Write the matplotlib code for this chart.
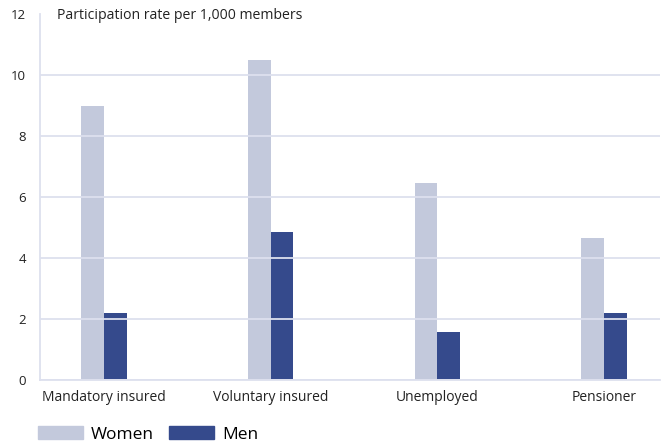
import numpy as np
import matplotlib.pyplot as plt
from matplotlib.patches import Patch

categories = ["Mandatory insured", "Voluntary insured", "Unemployed", "Pensioner"]
women = [9.0, 10.5, 6.45, 4.65]
men = [2.2, 4.85, 1.57, 2.2]
yticks = [0, 2, 4, 6, 8, 10, 12]

c_women = "#C3C9DC"
c_men = "#354A8C"
c_grid = "#DDE0EE"

plt.rcParams['font.family'] = ['Open Sans', 'DejaVu Sans']

fig = plt.figure(figsize=(6.65, 4.45), dpi=100)
ax = fig.add_axes([0.06, 0.146, 0.9325, 0.8225])

x = np.arange(len(categories))
w = 0.137
ax.bar(x - w / 2, women, width=w, color=c_women, zorder=1)
ax.bar(x + w / 2, men, width=w, color=c_men, zorder=1)

ax.set_xlim(-0.383, 3.335)
ax.set_ylim(0, 12)
ax.set_yticks(yticks)
ax.set_yticklabels([str(v) for v in yticks], fontsize=9.5, color="#222222")
ax.set_xticks(x)
ax.set_xticklabels(categories, fontsize=10, color="#222222")
ax.tick_params(length=0)
ax.tick_params(axis="y", pad=10)
ax.tick_params(axis="x", pad=7)

ax.set_axisbelow(False)
ax.yaxis.grid(True, color=c_grid, linewidth=1.3, zorder=2)
# no grid line at the top value
ax.yaxis.get_gridlines()[-1].set_visible(False)
for s in ["top", "right"]:
    ax.spines[s].set_visible(False)
ax.spines["left"].set_color(c_grid)
ax.spines["left"].set_linewidth(1.3)
ax.spines["bottom"].set_color(c_grid)
ax.spines["bottom"].set_linewidth(1.3)

ax.text(0.028, 0.995, "Participation rate per 1,000 members", transform=ax.transAxes,
        fontsize=10.1, color="#222222", va="center", ha="left")

handles = [Patch(color=c_women, label="Women"), Patch(color=c_men, label="Men")]
fig.legend(handles=handles, loc="lower left", bbox_to_anchor=(0.047, -0.01), ncol=2,
           frameon=False, fontsize=12.5, handlelength=2.6, handleheight=0.75,
           handletextpad=0.45, columnspacing=0.85, borderaxespad=0)

fig.savefig("out.png", dpi=100)
